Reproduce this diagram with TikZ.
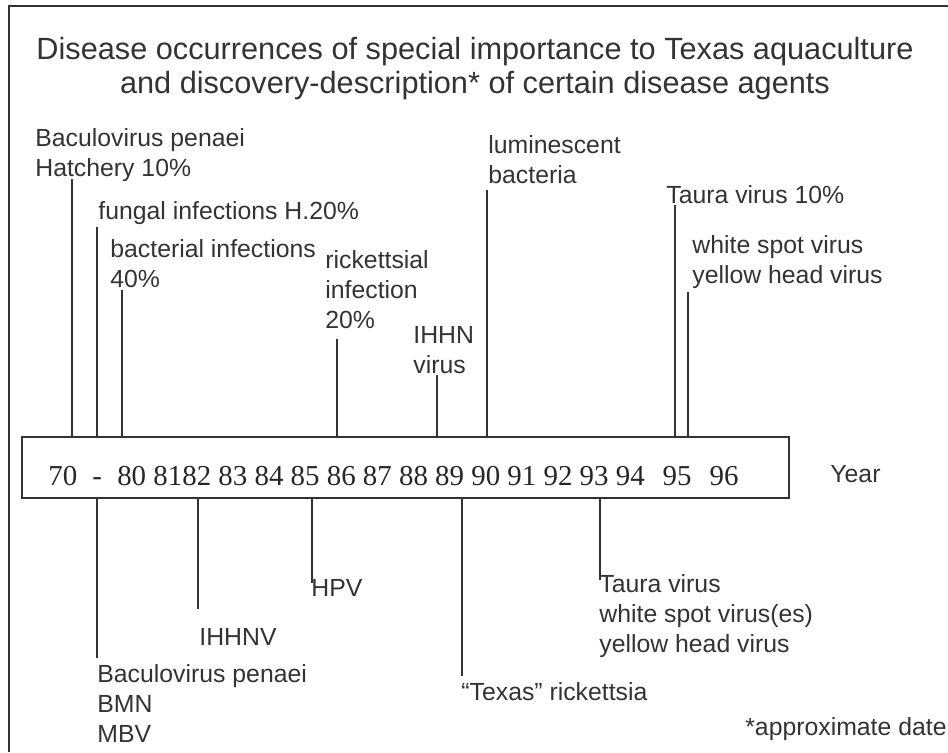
\documentclass[tikz,border=0pt]{standalone}
\usepackage{fontspec}
\setmainfont{Liberation Sans}
\newfontfamily\yearfont{Liberation Serif}
\newcommand{\labstack}[1]{\begin{tabular}[t]{@{}l@{}}#1\end{tabular}}
\begin{document}
\begin{tikzpicture}[x=0.5pt,y=-0.5pt,
    lbl/.style={anchor=base west,inner sep=0pt,text=black!80,font=\fontsize{12.4}{15}\selectfont},
    tick/.style={draw=black!80,line width=1pt}]
  \useasboundingbox (0,0) rectangle (948,752);
  % frame, only left and top edges show
  \draw[tick] (9,752) -- (9,6) -- (948,6);
  % title
  \node[anchor=base,inner sep=0pt,text=black!80,font=\fontsize{15.35}{17}\selectfont] (title1) at (475,59)
    {Disease occurrences of special importance to Texas aquaculture};
  \node[anchor=base,inner sep=0pt,text=black!80,font=\fontsize{15.35}{17}\selectfont] (title2) at (475,93)
    {and discovery-description* of certain disease agents};
  % time line
  \node[draw=black!80,line width=1pt,minimum width=383.5pt,minimum height=30.5pt,inner sep=0pt] (yearbox) at (405.5,467.5) {};
  \node[anchor=base west,inner sep=0pt,text=black!85,font=\yearfont\fontsize{14.45}{17}\selectfont] (years) at (48,485)
    {70\hspace{7.5pt}-\hspace{7.7pt}80 8182 83 84 85 86 87 88 89 90 91 92 93 94\hspace{9pt}95\hspace{9pt}96};
  \node[lbl] (yearlbl) at (830,482) {Year};
  % events above the line
  \coordinate (upA) at (72,179);
  \coordinate (upB) at (97,227);
  \coordinate (upC) at (122,290);
  \coordinate (upD) at (337,339);
  \coordinate (upE) at (437,375);
  \coordinate (upF) at (487,190);
  \coordinate (upG) at (675,205);
  \coordinate (upH) at (688,292);
  \node[lbl] (bpHatch) at (35,146) {\labstack{Baculovirus penaei\\Hatchery 10\%}};
  \node[lbl] (fungal) at (98,219) {fungal infections H.20\%};
  \node[lbl] (bact) at (110,257) {\labstack{bacterial infections\\40\%}};
  \node[lbl] (rick) at (325,268) {\labstack{rickettsial\\infection\\20\%}};
  \node[lbl] (ihhnVir) at (413,343) {\labstack{IHHN\\virus}};
  \node[lbl] (lumin) at (488,153) {\labstack{luminescent\\bacteria}};
  \node[lbl] (tauraUp) at (666,203) {Taura virus 10\%};
  \node[lbl] (wsUp) at (692,253) {\labstack{white spot virus\\yellow head virus}};
  \draw[tick] (yearbox.north -| upA) -- (upA);
  \draw[tick] (yearbox.north -| upB) -- (upB);
  \draw[tick] (yearbox.north -| upC) -- (upC);
  \draw[tick] (yearbox.north -| upD) -- (upD);
  \draw[tick] (yearbox.north -| upE) -- (upE);
  \draw[tick] (yearbox.north -| upF) -- (upF);
  \draw[tick] (yearbox.north -| upG) -- (upG);
  \draw[tick] (yearbox.north -| upH) -- (upH);
  % agents below the line
  \coordinate (dnA) at (97,658);
  \coordinate (dnB) at (198,609);
  \coordinate (dnC) at (312,583);
  \coordinate (dnD) at (462,676);
  \coordinate (dnE) at (600,580);
  \node[lbl] (bpBmn) at (97,682) {\labstack{Baculovirus penaei\\BMN\\MBV}};
  \node[lbl] (ihhnv) at (199,645) {IHHNV};
  \node[lbl] (hpv) at (311,596) {HPV};
  \node[lbl] (texas) at (461,700) {“Texas” rickettsia};
  \node[lbl] (tauraDn) at (599,592) {\labstack{Taura virus\\white spot virus(es)\\yellow head virus}};
  \draw[tick] (yearbox.south -| dnA) -- (dnA);
  \draw[tick] (yearbox.south -| dnB) -- (dnB);
  \draw[tick] (yearbox.south -| dnC) -- (dnC);
  \draw[tick] (yearbox.south -| dnD) -- (dnD);
  \draw[tick] (yearbox.south -| dnE) -- (dnE);
  % note
  \node[lbl,anchor=base east] (approx) at (947,735) {*approximate date};
\end{tikzpicture}
\end{document}
